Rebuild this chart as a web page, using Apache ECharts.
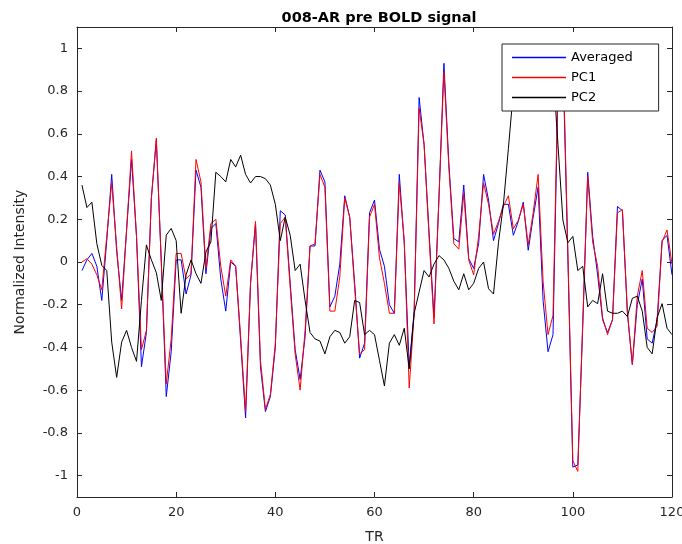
<!DOCTYPE html>
<html>
<head>
<meta charset="utf-8">
<script src="https://cdn.jsdelivr.net/npm/echarts@6/dist/echarts.min.js"></script>
<style>
  html, body { margin: 0; padding: 0; background: #fff; }
  #chart { width: 682px; height: 544px; }
</style>
</head>
<body>
<div id="chart"></div>
<script>
// TR sample numbers (1..120)
const tr = Array.from({ length: 120 }, (_, i) => i + 1);

// Averaged BOLD signal
const averaged = [
  -0.04, 0.01, 0.04, -0.02, -0.18, 0.10, 0.41, 0.05, -0.18, 0.15,
  0.48, 0.12, -0.49, -0.33, 0.30, 0.57, 0.00, -0.63, -0.42, 0.01,
  0.01, -0.15, -0.06, 0.43, 0.35, -0.055, 0.156, 0.18, -0.08, -0.23,
  0.00, -0.02, -0.37, -0.73, -0.10, 0.18, -0.49, -0.70, -0.63, -0.40,
  0.24, 0.22, -0.10, -0.41, -0.55, -0.35, 0.075, 0.075, 0.43, 0.375,
  -0.21, -0.16, -0.01, 0.31, 0.21, -0.10, -0.45, -0.38, 0.23, 0.29,
  0.06, -0.02, -0.20, -0.24, 0.41, 0.086, -0.49, -0.23, 0.77, 0.55,
  0.14, -0.26, 0.30, 0.93, 0.46, 0.11, 0.094, 0.36, 0.016, -0.03,
  0.086, 0.41, 0.29, 0.10, 0.18, 0.27, 0.27, 0.125, 0.19, 0.28,
  0.055, 0.21, 0.35, -0.18, -0.42, -0.34, 0.80, 0.95, 0.02, -0.96,
  -0.95, -0.30, 0.42, 0.12, -0.06, -0.27, -0.33, -0.27, 0.26, 0.24,
  -0.24, -0.48, -0.20, -0.08, -0.36, -0.38, -0.27, 0.10, 0.125, -0.06
];

// First principal component
const pc1 = [
  0.00, 0.015, -0.01, -0.06, -0.13, 0.12, 0.37, 0.07, -0.22, 0.15,
  0.52, 0.12, -0.41, -0.32, 0.30, 0.58, 0.00, -0.57, -0.36, 0.04,
  0.04, -0.08, -0.055, 0.48, 0.375, -0.03, 0.18, 0.20, -0.02, -0.16,
  0.01, -0.02, -0.35, -0.70, -0.10, 0.19, -0.46, -0.69, -0.62, -0.38,
  0.18, 0.21, -0.12, -0.43, -0.60, -0.32, 0.075, 0.085, 0.41, 0.35,
  -0.23, -0.23, -0.07, 0.30, 0.21, -0.12, -0.43, -0.41, 0.21, 0.27,
  0.02, -0.10, -0.24, -0.24, 0.37, 0.10, -0.59, -0.24, 0.72, 0.55,
  0.12, -0.29, 0.30, 0.89, 0.44, 0.086, 0.06, 0.32, 0.01, -0.06,
  0.12, 0.37, 0.27, 0.13, 0.19, 0.26, 0.31, 0.156, 0.195, 0.27,
  0.08, 0.23, 0.41, -0.09, -0.34, -0.25, 0.85, 1.00, 0.05, -0.93,
  -0.98, -0.28, 0.40, 0.094, -0.02, -0.26, -0.34, -0.27, 0.23, 0.245,
  -0.23, -0.48, -0.16, -0.04, -0.31, -0.33, -0.30, 0.094, 0.15, -0.01
];

// Second principal component
const pc2 = [
  0.36, 0.255, 0.28, 0.086, -0.016, -0.04, -0.375, -0.54, -0.375, -0.32,
  -0.40, -0.465, -0.18, 0.08, 0.01, -0.05, -0.18, 0.126, 0.157, 0.10,
  -0.24, -0.06, 0.01, -0.055, -0.10, 0.047, 0.094, 0.42, 0.40, 0.375,
  0.48, 0.445, 0.50, 0.41, 0.37, 0.40, 0.40, 0.39, 0.36, 0.27,
  0.10, 0.21, 0.125, -0.04, -0.01, -0.18, -0.33, -0.36, -0.37, -0.43,
  -0.35, -0.32, -0.33, -0.38, -0.35, -0.18, -0.19, -0.34, -0.32, -0.34,
  -0.46, -0.58, -0.38, -0.34, -0.39, -0.31, -0.50, -0.24, -0.14, -0.04,
  -0.07, -0.01, 0.03, 0.01, -0.03, -0.09, -0.13, -0.055, -0.13, -0.10,
  -0.03, 0.00, -0.125, -0.15, 0.09, 0.27, 0.53, 0.80, 0.90, 0.85,
  0.72, 0.85, 0.95, 0.90, 0.95, 0.90, 0.55, 0.196, 0.09, 0.12,
  -0.04, -0.02, -0.21, -0.18, -0.195, -0.055, -0.23, -0.24, -0.24, -0.23,
  -0.255, -0.17, -0.16, -0.23, -0.40, -0.43, -0.26, -0.195, -0.31, -0.34
];

// Axis ticks
const xTicks = [0, 20, 40, 60, 80, 100, 120];
const yTicks = [-1, -0.8, -0.6, -0.4, -0.2, 0, 0.2, 0.4, 0.6, 0.8, 1];

const seriesNames = ['Averaged', 'PC1', 'PC2'];
const seriesColors = ['#0000ff', '#ff0000', '#000000'];
const seriesValues = [averaged, pc1, pc2];

const FONT = 'DejaVu Sans';
const AXIS_COLOR = '#262626';
// thin horizontal bar used as the legend key
const LEGEND_KEY = 'path://M0,0 H54 V1.6 H0 Z';

const pairs = vals => vals.map((v, i) => [tr[i], v]);

const boxAxisLine = { show: true, onZero: false, lineStyle: { color: AXIS_COLOR, width: 1 } };
const inTick = { show: true, inside: true, length: 5, lineStyle: { color: AXIS_COLOR } };

const chart = echarts.init(document.getElementById('chart'), null, { renderer: 'canvas' });

chart.setOption({
  animation: false,
  backgroundColor: '#ffffff',
  color: seriesColors,
  textStyle: { fontFamily: FONT },
  title: {
    text: '008-AR pre BOLD signal',
    left: 374, top: 6, textAlign: 'center',
    textStyle: { fontFamily: FONT, fontSize: 14.5, fontWeight: 'bold', color: '#000' }
  },
  legend: {
    orient: 'vertical',
    left: 502, top: 44,
    z: 20,
    padding: [7, 26, 7, 10],
    itemWidth: 54, itemHeight: 13, itemGap: 7,
    backgroundColor: '#ffffff',
    borderColor: AXIS_COLOR, borderWidth: 1,
    textStyle: { fontFamily: FONT, fontSize: 13, color: '#000' },
    data: seriesNames.map((name, k) => ({
      name,
      icon: LEGEND_KEY,
      itemStyle: { color: seriesColors[k], borderWidth: 0 }
    }))
  },
  grid: { left: 77, right: 10, top: 27, bottom: 47, containLabel: false, outerBoundsMode: 'none' },
  xAxis: [
    {
      type: 'value', min: 0, max: 120, interval: 20, position: 'bottom',
      name: 'TR', nameLocation: 'middle', nameGap: 33,
      nameTextStyle: { fontFamily: FONT, fontSize: 14, color: AXIS_COLOR },
      axisLine: boxAxisLine, axisTick: inTick,
      axisLabel: { fontFamily: FONT, fontSize: 13, color: AXIS_COLOR, margin: 9 },
      splitLine: { show: false }
    },
    {
      type: 'value', min: 0, max: 120, interval: 20, position: 'top',
      axisLine: boxAxisLine, axisTick: inTick,
      axisLabel: { show: false }, splitLine: { show: false }
    }
  ],
  yAxis: [
    {
      type: 'value', min: -1.1, max: 1.1, position: 'left',
      name: 'Normalized Intensity', nameLocation: 'middle', nameGap: 50,
      nameTextStyle: { fontFamily: FONT, fontSize: 14, color: AXIS_COLOR },
      axisLine: boxAxisLine,
      axisTick: Object.assign({ customValues: yTicks }, inTick),
      axisLabel: {
        customValues: yTicks, fontFamily: FONT, fontSize: 13, color: AXIS_COLOR, margin: 9,
        formatter: v => String(Math.round(v * 10) / 10)
      },
      splitLine: { show: false }
    },
    {
      type: 'value', min: -1.1, max: 1.1, position: 'right',
      axisLine: boxAxisLine,
      axisTick: Object.assign({ customValues: yTicks }, inTick),
      axisLabel: { show: false }, splitLine: { show: false }
    }
  ],
  series: seriesNames.map((name, k) => ({
    name,
    type: 'line',
    xAxisIndex: 0, yAxisIndex: 0,
    data: pairs(seriesValues[k]),
    symbol: 'none',
    showSymbol: false,
    color: seriesColors[k],
    lineStyle: { color: seriesColors[k], width: 1 },
    itemStyle: { color: seriesColors[k] },
    z: 2
  }))
});
</script>
</body>
</html>
